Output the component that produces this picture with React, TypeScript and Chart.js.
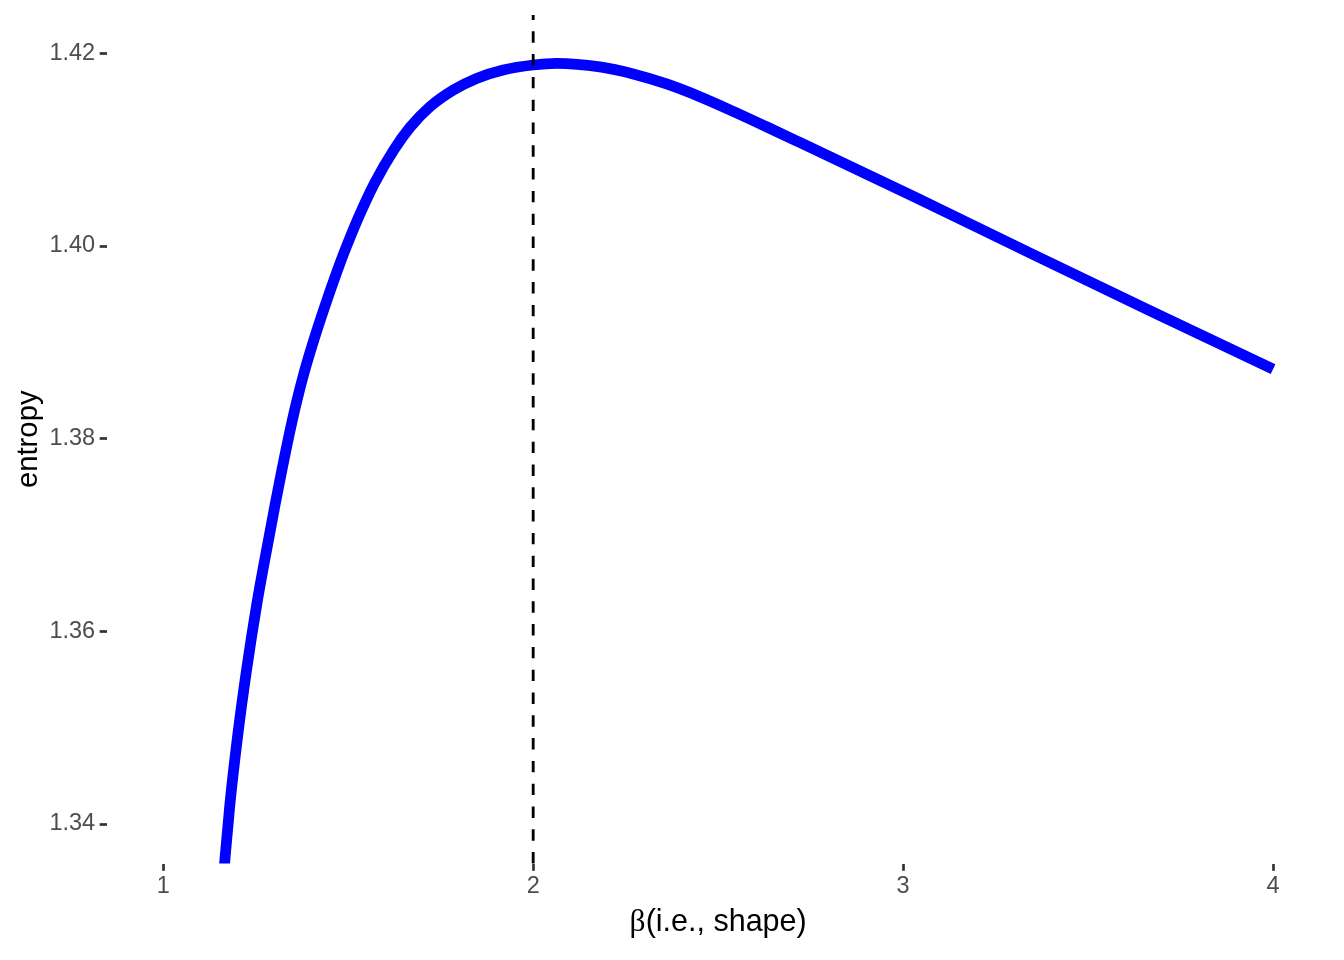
import React, { useEffect, useRef } from "react";
import { Chart, registerables } from "chart.js";

Chart.register(...registerables);

// ---- data ----
const betaValues = [
  1.16189, 1.16595, 1.18041, 1.20081, 1.22514, 1.25324, 1.26919, 1.30297, 1.33919, 1.35946,
  1.3827, 1.40973, 1.43946, 1.47108, 1.49135, 1.52838, 1.57081, 1.62297, 1.66676, 1.72081,
  1.78378, 1.84703, 1.91892, 2.0, 2.06324, 2.18027, 2.27027, 2.36054, 2.45054, 2.54054,
  2.63081, 2.72081, 3.03622, 3.35135, 3.66676, 4.0,
];
const entropyValues = [
  1.33415, 1.33595, 1.34212, 1.34903, 1.35596, 1.36289, 1.36634, 1.37327, 1.38019, 1.38366,
  1.38711, 1.39057, 1.39404, 1.3975, 1.39957, 1.40303, 1.4065, 1.40996, 1.4123, 1.41446,
  1.41619, 1.4174, 1.41827, 1.41879, 1.41896, 1.41859, 1.41786, 1.41682, 1.4155, 1.41398,
  1.41238, 1.41075, 1.40499, 1.39912, 1.3933, 1.38722,
];
const xTicks = [1, 2, 3, 4];
const yTicks = [1.34, 1.36, 1.38, 1.4, 1.42];
const vlineAt = [2];
const xTitleSymbol = "β";
const xTitleText = "(i.e., shape)";
const yTitleText = "entropy";

const SANS = '"Liberation Sans", Arial, Helvetica, sans-serif';
const SERIF = '"Liberation Serif", "DejaVu Serif", serif';

export default function App() {
  const ref = useRef<HTMLCanvasElement>(null);

  useEffect(() => {
    document.body.style.margin = "0";
    const canvas = ref.current!;

    const vlinePlugin = {
      id: "vline",
      afterDatasetsDraw(chart: any) {
        const { ctx, chartArea, scales } = chart;
        ctx.save();
        ctx.strokeStyle = "#000000";
        ctx.lineWidth = 2.85;
        ctx.setLineDash([11.4, 11.4]);
        ctx.lineCap = "butt";
        for (const v of vlineAt) {
          const px = scales.x.getPixelForValue(v);
          ctx.beginPath();
          ctx.moveTo(px, chartArea.bottom);
          ctx.lineTo(px, chartArea.top);
          ctx.stroke();
        }
        ctx.restore();
      },
    };

    const titlesPlugin = {
      id: "titles",
      afterDraw(chart: any) {
        const { ctx, chartArea } = chart;
        ctx.save();
        ctx.fillStyle = "#000000";
        ctx.textBaseline = "alphabetic";
        ctx.textAlign = "left";
        const fs = 30.5;
        ctx.font = `${fs + 1}px ${SERIF}`;
        const wb = ctx.measureText(xTitleSymbol).width;
        ctx.font = `${fs}px ${SANS}`;
        const wt = ctx.measureText(xTitleText).width;
        const cx = (chartArea.left + chartArea.right) / 2;
        const x0 = cx - (wb + wt) / 2;
        const baseY = 931;
        ctx.font = `${fs + 1}px ${SERIF}`;
        ctx.fillText(xTitleSymbol, x0, baseY);
        ctx.font = `${fs}px ${SANS}`;
        ctx.fillText(xTitleText, x0 + wb, baseY);

        const cy = (chartArea.top + chartArea.bottom) / 2;
        ctx.font = `29.3px ${SANS}`;
        ctx.translate(37, cy);
        ctx.rotate(-Math.PI / 2);
        ctx.textAlign = "center";
        ctx.fillText(yTitleText, 0, 0);
        ctx.restore();
      },
    };

    const chart = new Chart(canvas, {
      type: "line",
      data: {
        datasets: [
          {
            data: betaValues.map((b, i) => ({ x: b, y: entropyValues[i] })),
            borderColor: "#0000FF",
            borderWidth: 10.8,
            pointRadius: 0,
            cubicInterpolationMode: "monotone",
            borderCapStyle: "butt",
            borderJoinStyle: "round",
            fill: false,
            clip: 0,
          } as any,
        ],
      },
      options: {
        animation: false,
        responsive: false,
        devicePixelRatio: 1,
        layout: { padding: { top: 15, right: 14.7, left: 0, bottom: 0 } },
        plugins: {
          legend: { display: false },
          tooltip: { enabled: false },
          title: { display: false },
        },
        scales: {
          x: {
            type: "linear",
            min: 0.848,
            max: 4.152,
            afterBuildTicks: (s: any) => {
              s.ticks = xTicks.map((v) => ({ value: v }));
            },
            afterFit: (s: any) => {
              s.height = 96.5;
              s.paddingLeft = 0;
              s.paddingRight = 0;
            },
            grid: {
              drawOnChartArea: false,
              drawTicks: true,
              tickLength: 7.33,
              tickWidth: 2.7,
              tickColor: "#333333",
            },
            border: { display: false },
            ticks: {
              font: { family: SANS, size: 23.5 },
              color: "#4D4D4D",
              padding: 2,
              maxRotation: 0,
              autoSkip: false,
              callback: (v: any) => String(v),
            },
          },
          y: {
            type: "linear",
            min: 1.3359,
            max: 1.42398,
            afterBuildTicks: (s: any) => {
              s.ticks = yTicks.map((v) => ({ value: v }));
            },
            afterFit: (s: any) => {
              s.width = 107;
              s.paddingTop = 0;
              s.paddingBottom = 0;
            },
            grid: {
              drawOnChartArea: false,
              drawTicks: true,
              tickLength: 7.33,
              tickWidth: 2.7,
              tickColor: "#333333",
            },
            border: { display: false },
            ticks: {
              font: { family: SANS, size: 23.5 },
              color: "#4D4D4D",
              padding: 4.5,
              autoSkip: false,
              callback: (v: any) => Number(v).toFixed(2),
            },
          },
        },
      },
      plugins: [vlinePlugin, titlesPlugin],
    });

    return () => chart.destroy();
  }, []);

  return (
    <div style={{ width: 1344, height: 960, background: "#ffffff" }}>
      <canvas ref={ref} width={1344} height={960} style={{ display: "block" }} />
    </div>
  );
}
